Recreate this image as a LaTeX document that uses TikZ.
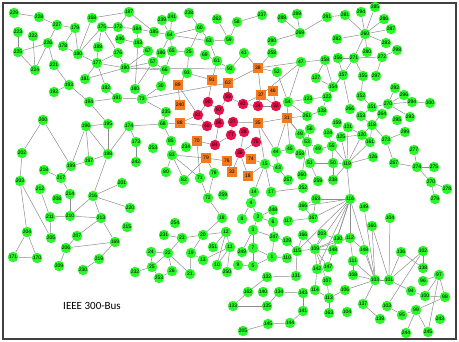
\documentclass[tikz,border=0pt]{standalone}
\usepackage{fontspec}
\setmainfont{Liberation Sans}
\newfontfamily\captionfont{Carlito}
\usetikzlibrary{backgrounds}
\definecolor{busgreen}{HTML}{2BF52B}
\definecolor{busred}{HTML}{E5124B}
\definecolor{busorange}{HTML}{F37A1F}
\definecolor{linegray}{HTML}{8C8C8C}

\begin{document}
\begin{tikzpicture}[x=1pt, y=-1pt, font=\fontsize{5}{5}\selectfont,
  bus/.style={circle, fill=busgreen, inner sep=0pt, minimum size=10.5pt},
  hub/.style={bus, fill=busred},
  gen/.style={rectangle, fill=busorange, inner sep=0pt, minimum size=10pt},
  link/.style={linegray, line width=0.5pt}]
  \useasboundingbox (0,0) rectangle (459,342);
  \draw[darkgray, line width=1.2pt] (3,3) rectangle (456,339);
  % load buses
  \foreach \n/\x/\y in {229/14/13, 228/39/17, 227/57/25, 179/75/28, 168/92/18, 175/102/27,
    223/18/32, 222/33/36, 226/48/43, 225/18/52, 178/63/46, 180/78/54, 188/98/47, 177/97/63,
    224/35/70, 221/54/65, 181/85/79, 182/106/88, 193/69/85, 192/54/92, 194/89/102, 191/117/98,
    172/118/27, 176/118/53, 187/129/12, 239/162/20, 241/172/17, 238/189/13, 262/217/19, 58/237/22,
    184/137/29, 185/154/32, 64/170/35, 60/200/28, 246/120/39, 183/138/43, 63/209/41, 59/229/40,
    67/148/51, 186/161/53, 65/172/51, 25/189/52, 69/205/55, 61/217/61, 190/125/68, 57/153/62,
    66/165/70, 93/187/73, 92/230/69, 30/161/86, 73/142/99, 235/166/112, 237/262/15, 288/282/18,
    289/297/14, 269/300/33, 290/272/41, 291/327/17, 281/345/15, 282/337/39, 41/244/53, 258/272/53,
    47/301/62, 158/325/60, 156/338/58, 52/277/72, 127/316/78, 157/343/75, 154/333/87, 122/327/97,
    123/308/99, 54/288/102, 128/322/111, 261/307/116, 266/350/109, 294/361/12, 285/375/7,
    286/384/19, 287/391/29, 260/365/34, 283/386/43, 280/367/52, 271/354/58, 272/382/57,
    298/397/50, 297/376/76, 155/363/76, 292/395/88, 296/404/95, 270/388/104, 300/430/103,
    152/361/96, 151/372/107, 264/382/114, 293/410/117, 153/361/116, 295/397/120, 121/348/127,
    118/372/125, 273/386/140, 299/405/132, 125/341/137, 120/362/135, 161/370/142, 126/373/157,
    119/347/164, 277/414/150, 267/394/163, 274/417/167, 275/434/167, 278/447/189, 279/435/199,
    116/350/199, 149/364/207, 104/390/218, 160/372/226, 200/43/120, 196/86/126, 195/108/124,
    202/22/153, 198/108/154, 197/89/161, 199/71/166, 218/44/170, 217/61/178, 203/20/181,
    212/40/189, 214/70/194, 216/93/196, 208/57/199, 211/50/217, 210/70/216, 213/101/218,
    201/122/183, 174/129/126, 68/163/124, 173/136/142, 253/153/148, 85/171/141, 234/186/147,
    83/172/155, 242/136/162, 80/166/172, 82/184/180, 71/200/178, 78/214/173, 72/208/198,
    259/223/195, 220/130/208, 254/175/223, 48/300/134, 56/310/129, 124/328/133, 53/307/142,
    44/276/152, 45/290/149, 49/318/149, 55/332/146, 15/265/164, 43/278/168, 51/310/163,
    50/333/163, 257/288/180, 14/254/192, 17/271/192, 252/303/188, 163/316/199, 4/251/203,
    248/273/210, 166/303/206, 2/258/217, 8/242/219, 6/273/222, 117/288/221, 167/313/218,
    159/337/123, 215/127/227, 231/164/235, 23/182/238, 20/203/235, 12/226/232, 11/230/247,
    251/213/247, 24/151/252, 22/168/253, 19/191/253, 13/203/260, 10/217/265, 232/135/272,
    26/172/271, 21/190/274, 250/227/272, 204/27/232, 205/51/238, 207/77/236, 169/115/242,
    171/13/257, 170/37/258, 206/66/248, 209/59/266, 219/99/259, 230/83/270, 3/253/230,
    247/274/237, 129/287/241, 130/338/239, 7/253/248, 249/242/252, 1/272/257, 110/287/258,
    115/297/251, 109/315/249, 148/333/250, 9/238/265, 5/253/266, 142/317/269, 147/328/267,
    132/267/277, 131/296/276, 107/327/281, 162/248/292, 140/263/292, 134/279/292, 143/303/293,
    114/315/290, 113/329/298, 133/233/306, 135/267/306, 141/303/311, 144/290/323, 145/268/324,
    112/350/238, 111/353/261, 108/353/275, 106/345/290, 103/375/280, 101/389/280, 136/401/252,
    102/423/251, 138/423/268, 97/439/275, 96/423/281, 94/411/291, 100/425/296, 98/445/297,
    137/363/304, 95/402/315, 99/416/310, 243/440/319, 139/380/319, 244/406/333, 245/428/332}
    \node[bus] (n\n) at (\x,\y) {\n};
  \node[bus] (n180b) at (135,89) {180};
  \node[bus] (n258b) at (300,154) {258};
  \node[bus] (n260b) at (302,175) {260};
  \node[bus] (n259b) at (318,181) {259};
  \node[bus] (n238b) at (333,180) {238};
  \node[bus] (n294b) at (412,102) {294};
  \node[bus] (n270b) at (431,182) {270};
  \node[bus] (n18b) at (222,218) {18};
  \node[bus] (n25b) at (152,267) {25};
  \node[bus] (n253b) at (159,278) {253};
  \node[bus] (n166b) at (303,235) {166};
  \node[bus] (n203b) at (322,234) {203};
  \node[bus] (n148b) at (364,250) {148};
  \node[bus] (n163b) at (329,313) {163};
  \node[bus] (n205b) at (243,331) {205};
  \node[bus] (n104b) at (347,312) {104};
  \node[bus] (n103b) at (387,306) {103};
  % critical buses
  \foreach \n/\x/\y in {81/198/115, 87/219/110, 90/208/102, 39/228/97, 40/207/126, 86/219/123,
    84/215/145, 77/231/135, 27/233/122, 28/244/132, 75/256/142, 36/240/153, 42/243/104,
    34/258/106, 32/276/106}
    \node[hub] (n\n) at (\x,\y) {\n};
  \foreach \n/\x/\y in {89/178/85, 91/212/80, 62/228/83, 240/180/105, 88/180/123, 70/197/141,
    79/206/158, 76/227/161, 33/232/172, 38/258/68, 37/261/95, 46/273/91, 35/258/123,
    31/287/118, 74/251/159, 18/248/176}
    \node[gen] (n\n) at (\x,\y) {\n};
  \node[font=\captionfont\fontsize{11}{12}\selectfont] (title) at (92,306) {IEEE 300-Bus};
  % lines
  \begin{scope}[on background layer]
    \foreach \a/\b in {229/228, 228/227, 227/226, 223/225, 222/224, 225/226, 225/224, 226/224,
      226/221, 221/193, 193/192, 193/194, 227/179, 179/178, 179/180, 178/180, 168/180, 175/180,
      168/187, 175/188, 188/177, 180/177, 177/181, 177/182, 177/176, 177/190, 175/172, 175/176,
      194/191, 194/195, 182/191, 181/190,
      187/172, 187/185, 184/183, 172/184, 184/185, 246/183, 183/180b, 190/176, 190/67, 190/57,
      190/66, 190/92, 67/183, 57/180b, 57/66, 64/185, 64/239, 64/241, 64/60, 64/63, 64/65,
      64/186, 65/66, 65/25, 25/60, 25/93, 60/238, 60/63, 63/59, 63/61, 59/262, 59/58, 61/92,
      61/91, 69/61, 30/66, 30/73, 73/191, 73/62, 89/93, 89/81, 89/240, 91/90, 91/93, 90/81,
      90/87, 62/39, 39/87, 73/235, 186/57,
      58/237, 288/269, 289/269, 269/290, 269/291, 291/281, 41/92, 41/38, 38/258, 38/52, 38/47,
      38/37, 38/62, 52/54, 47/54, 47/37, 47/158, 158/127, 158/154, 156/157, 127/154, 157/154,
      157/122, 154/122, 123/122, 123/54, 54/31, 54/261, 37/42, 37/34, 37/32, 46/32, 128/122,
      42/34, 34/32, 42/39,
      281/260, 294/260, 285/260, 286/260, 287/260, 283/260, 280/260, 271/260, 260/282, 271/272,
      272/298, 272/297, 271/155, 271/157, 155/152, 152/151, 151/270, 151/153, 151/264, 270/292,
      270/296, 270/294b, 294b/300, 270/293, 157/266, 156/271,
      153/118, 118/264, 118/273, 273/299, 273/267, 118/161, 118/120, 120/121, 120/125, 120/119,
      161/119, 126/119, 119/121, 119/125, 119/116, 267/274, 274/275, 274/270b, 270b/278,
      270b/279, 277/274, 104/101, 149/103,
      200/202, 200/199, 196/195, 196/197, 196/198, 196/199, 195/198, 197/199, 197/198, 198/216,
      202/203, 218/217, 217/199, 217/214, 203/204, 203/205, 212/211, 214/210, 210/211, 210/213,
      216/213, 216/201, 216/210, 216/220, 198/174,
      204/171, 204/170, 171/170, 205/211, 207/213, 207/206, 206/169, 206/209, 169/219, 219/230,
      169/213,
      174/68, 174/173, 68/88, 68/85, 68/235, 88/81, 88/40, 173/242, 85/83, 83/79, 83/80, 83/82,
      83/71, 70/71, 84/70, 79/76, 79/78, 79/82, 71/72, 78/72, 72/18b, 81/40, 40/86, 86/84,
      86/87, 84/77, 77/27,
      35/27, 35/31, 35/44, 35/15, 31/44, 31/45, 31/48, 31/53, 31/261, 28/36, 75/36, 36/74,
      36/18, 36/33, 74/15, 15/43, 15/14, 15/18, 44/43, 44/45, 45/258b, 48/53, 53/49, 53/51,
      53/260b, 56/53, 124/55, 55/49, 55/50, 50/51, 50/238b, 51/259b, 43/257, 14/4, 17/252,
      4/8, 4/2, 2/6, 2/248, 163/166, 163/116, 166/167, 167/117, 163/167, 76/33, 15/17, 261/128,
      231/23, 23/22, 23/20, 22/24, 22/25b, 22/26, 22/21, 24/25b, 25b/232, 25b/253b, 26/253b,
      19/21, 19/20, 19/13, 20/12, 12/11, 12/251, 12/10, 11/10, 11/13, 250/11, 18b/20,
      3/7, 3/247, 3/249, 7/249, 7/1, 7/5, 247/129, 247/1, 1/110, 1/5, 9/5, 115/109, 115/131,
      115/129, 115/166b, 109/148, 109/142, 109/147, 109/107, 203b/109, 142/114, 114/113,
      113/107, 113/163b, 113/106, 132/131, 132/162, 162/133, 133/135, 135/134, 134/143,
      143/141, 141/144, 144/145, 145/205b, 2/3, 6/247,
      112/148b, 112/111, 111/108, 111/103, 108/103, 106/103, 103/137, 101/136, 101/102, 101/94,
      136/138, 102/138, 102/103b, 97/96, 97/98, 97/100, 97/245, 98/100, 98/99, 99/95, 99/244,
      99/245, 103b/95, 137/139, 94/100, 103/160, 101/160, 103/116, 116/112, 119/50, 109/112,
      116/167, 116/166, 116/109, 116/115, 116/142, 116/147, 116/148, 119/55, 119/238b,
      103/148b, 103/101, 130/109, 166b/109, 203b/130}
      \draw[link] (n\a) -- (n\b);
  \end{scope}
\end{tikzpicture}
\end{document}
